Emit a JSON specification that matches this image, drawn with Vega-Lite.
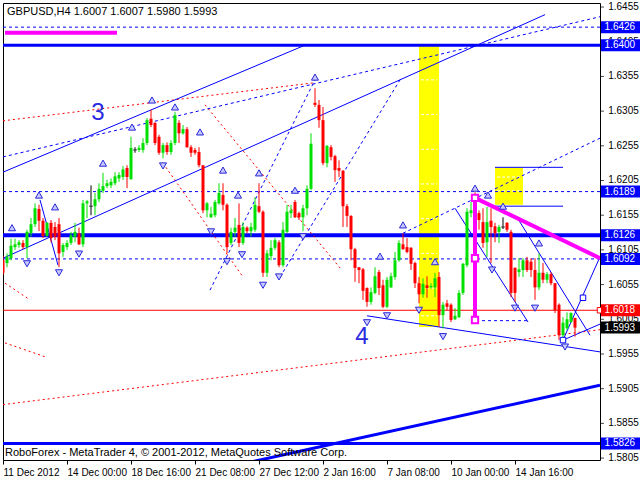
{
"$schema": "https://vega.github.io/schema/vega-lite/v6.json",
"width": 597, "height": 457,
"autosize": {"type": "none"},
"padding": {"left": 3, "top": 3, "right": 40, "bottom": 20},
"background": "white",
"view": {"stroke": "black", "strokeWidth": 1},
"config": {
  "axis": {"grid": false, "labelFont": "Liberation Sans", "labelFontSize": 10, "labelColor": "black", "tickColor": "black", "domain": false, "tickSize": 4, "labelOverlap": false, "labelFlush": false, "labelBound": false},
  "text": {"font": "Liberation Sans"}
},
"datasets": {
 "candles": [
  {"x":0,"o":1.6090,"h":1.6096,"l":1.6069,"c":1.6072},
  {"x":1,"o":1.6086,"h":1.6100,"l":1.6080,"c":1.6095},
  {"x":2,"o":1.6093,"h":1.6121,"l":1.6090,"c":1.6111},
  {"x":3,"o":1.6109,"h":1.6121,"l":1.6105,"c":1.6113},
  {"x":4,"o":1.6112,"h":1.6119,"l":1.6108,"c":1.6116},
  {"x":5,"o":1.6115,"h":1.6119,"l":1.6106,"c":1.6109},
  {"x":6,"o":1.6109,"h":1.6134,"l":1.6093,"c":1.6131},
  {"x":7,"o":1.6129,"h":1.6151,"l":1.6124,"c":1.6142},
  {"x":8,"o":1.6142,"h":1.6172,"l":1.6138,"c":1.6165},
  {"x":9,"o":1.6164,"h":1.6170,"l":1.6132,"c":1.6147},
  {"x":10,"o":1.6147,"h":1.6151,"l":1.6122,"c":1.6125},
  {"x":11,"o":1.6125,"h":1.6145,"l":1.6124,"c":1.6144},
  {"x":12,"o":1.6144,"h":1.6148,"l":1.6116,"c":1.6122},
  {"x":13,"o":1.6138,"h":1.6145,"l":1.6119,"c":1.6124},
  {"x":14,"o":1.6142,"h":1.6151,"l":1.6080,"c":1.6100},
  {"x":15,"o":1.6102,"h":1.6115,"l":1.6095,"c":1.6112},
  {"x":16,"o":1.6109,"h":1.6119,"l":1.6105,"c":1.6115},
  {"x":17,"o":1.6115,"h":1.6131,"l":1.6112,"c":1.6126},
  {"x":18,"o":1.6124,"h":1.6144,"l":1.6116,"c":1.6131},
  {"x":19,"o":1.6129,"h":1.6137,"l":1.6112,"c":1.6113},
  {"x":20,"o":1.6113,"h":1.6177,"l":1.6109,"c":1.6172},
  {"x":21,"o":1.6172,"h":1.6177,"l":1.6151,"c":1.6175},
  {"x":22,"o":1.6168,"h":1.6198,"l":1.6155,"c":1.6168},
  {"x":23,"o":1.6168,"h":1.6187,"l":1.6155,"c":1.6178},
  {"x":24,"o":1.6178,"h":1.6201,"l":1.6174,"c":1.6193},
  {"x":25,"o":1.6190,"h":1.6216,"l":1.6187,"c":1.6197},
  {"x":26,"o":1.6197,"h":1.6206,"l":1.6194,"c":1.6201},
  {"x":27,"o":1.6198,"h":1.6208,"l":1.6194,"c":1.6203},
  {"x":28,"o":1.6201,"h":1.6217,"l":1.6198,"c":1.6211},
  {"x":29,"o":1.6208,"h":1.6217,"l":1.6203,"c":1.6213},
  {"x":30,"o":1.6210,"h":1.6226,"l":1.6206,"c":1.6221},
  {"x":31,"o":1.6223,"h":1.6227,"l":1.6194,"c":1.6210},
  {"x":32,"o":1.6207,"h":1.6268,"l":1.6206,"c":1.6252},
  {"x":33,"o":1.6249,"h":1.6253,"l":1.6245,"c":1.6249},
  {"x":34,"o":1.6249,"h":1.6256,"l":1.6246,"c":1.6252},
  {"x":35,"o":1.6249,"h":1.6266,"l":1.6245,"c":1.6259},
  {"x":36,"o":1.6259,"h":1.6295,"l":1.6256,"c":1.6292},
  {"x":37,"o":1.6294,"h":1.6307,"l":1.6282,"c":1.6285},
  {"x":38,"o":1.6288,"h":1.6289,"l":1.6256,"c":1.6259},
  {"x":39,"o":1.6268,"h":1.6271,"l":1.6242,"c":1.6245},
  {"x":40,"o":1.6245,"h":1.6259,"l":1.6237,"c":1.6256},
  {"x":41,"o":1.6256,"h":1.6260,"l":1.6242,"c":1.6246},
  {"x":42,"o":1.6246,"h":1.6263,"l":1.6242,"c":1.6259},
  {"x":43,"o":1.6259,"h":1.6304,"l":1.6256,"c":1.6299},
  {"x":44,"o":1.6288,"h":1.6292,"l":1.6259,"c":1.6273},
  {"x":45,"o":1.6273,"h":1.6285,"l":1.6271,"c":1.6279},
  {"x":46,"o":1.6279,"h":1.6282,"l":1.6252,"c":1.6253},
  {"x":47,"o":1.6253,"h":1.6256,"l":1.6239,"c":1.6245},
  {"x":48,"o":1.6249,"h":1.6252,"l":1.6242,"c":1.6245},
  {"x":49,"o":1.6246,"h":1.6253,"l":1.6224,"c":1.6227},
  {"x":50,"o":1.6227,"h":1.6227,"l":1.6158,"c":1.6162},
  {"x":51,"o":1.6162,"h":1.6174,"l":1.6152,"c":1.6172},
  {"x":52,"o":1.6152,"h":1.6167,"l":1.6151,"c":1.6157},
  {"x":53,"o":1.6155,"h":1.6177,"l":1.6152,"c":1.6174},
  {"x":54,"o":1.6172,"h":1.6201,"l":1.6170,"c":1.6187},
  {"x":55,"o":1.6184,"h":1.6201,"l":1.6162,"c":1.6170},
  {"x":56,"o":1.6170,"h":1.6172,"l":1.6100,"c":1.6109},
  {"x":57,"o":1.6115,"h":1.6137,"l":1.6112,"c":1.6131},
  {"x":58,"o":1.6131,"h":1.6151,"l":1.6124,"c":1.6137},
  {"x":59,"o":1.6141,"h":1.6172,"l":1.6109,"c":1.6115},
  {"x":60,"o":1.6115,"h":1.6145,"l":1.6112,"c":1.6138},
  {"x":61,"o":1.6137,"h":1.6139,"l":1.6129,"c":1.6132},
  {"x":62,"o":1.6132,"h":1.6144,"l":1.6124,"c":1.6138},
  {"x":63,"o":1.6134,"h":1.6181,"l":1.6131,"c":1.6170},
  {"x":64,"o":1.6168,"h":1.6201,"l":1.6158,"c":1.6160},
  {"x":65,"o":1.6160,"h":1.6162,"l":1.6066,"c":1.6072},
  {"x":66,"o":1.6072,"h":1.6105,"l":1.6066,"c":1.6100},
  {"x":67,"o":1.6096,"h":1.6119,"l":1.6090,"c":1.6108},
  {"x":68,"o":1.6108,"h":1.6122,"l":1.6105,"c":1.6119},
  {"x":69,"o":1.6116,"h":1.6119,"l":1.6080,"c":1.6083},
  {"x":70,"o":1.6083,"h":1.6145,"l":1.6080,"c":1.6134},
  {"x":71,"o":1.6131,"h":1.6170,"l":1.6129,"c":1.6160},
  {"x":72,"o":1.6158,"h":1.6170,"l":1.6151,"c":1.6162},
  {"x":73,"o":1.6174,"h":1.6177,"l":1.6151,"c":1.6152},
  {"x":74,"o":1.6158,"h":1.6160,"l":1.6148,"c":1.6152},
  {"x":75,"o":1.6152,"h":1.6170,"l":1.6132,"c":1.6165},
  {"x":76,"o":1.6165,"h":1.6198,"l":1.6155,"c":1.6193},
  {"x":77,"o":1.6193,"h":1.6273,"l":1.6191,"c":1.6258},
  {"x":78,"o":1.6317,"h":1.6338,"l":1.6311,"c":1.6314},
  {"x":79,"o":1.6314,"h":1.6321,"l":1.6281,"c":1.6292},
  {"x":80,"o":1.6292,"h":1.6311,"l":1.6227,"c":1.6230},
  {"x":81,"o":1.6230,"h":1.6256,"l":1.6224,"c":1.6255},
  {"x":82,"o":1.6253,"h":1.6256,"l":1.6234,"c":1.6239},
  {"x":83,"o":1.6240,"h":1.6242,"l":1.6203,"c":1.6220},
  {"x":84,"o":1.6223,"h":1.6234,"l":1.6210,"c":1.6219},
  {"x":85,"o":1.6219,"h":1.6220,"l":1.6138,"c":1.6168},
  {"x":86,"o":1.6168,"h":1.6171,"l":1.6138,"c":1.6154},
  {"x":87,"o":1.6154,"h":1.6155,"l":1.6090,"c":1.6106},
  {"x":88,"o":1.6106,"h":1.6108,"l":1.6059,"c":1.6079},
  {"x":89,"o":1.6080,"h":1.6080,"l":1.6057,"c":1.6076},
  {"x":90,"o":1.6077,"h":1.6079,"l":1.6033,"c":1.6046},
  {"x":91,"o":1.6050,"h":1.6051,"l":1.6023,"c":1.6030},
  {"x":92,"o":1.6030,"h":1.6051,"l":1.6026,"c":1.6044},
  {"x":93,"o":1.6043,"h":1.6080,"l":1.6041,"c":1.6067},
  {"x":94,"o":1.6073,"h":1.6076,"l":1.6040,"c":1.6050},
  {"x":95,"o":1.6054,"h":1.6062,"l":1.6021,"c":1.6023},
  {"x":96,"o":1.6023,"h":1.6066,"l":1.6021,"c":1.6062},
  {"x":97,"o":1.6051,"h":1.6072,"l":1.6050,"c":1.6067},
  {"x":98,"o":1.6066,"h":1.6102,"l":1.6062,"c":1.6090},
  {"x":99,"o":1.6090,"h":1.6119,"l":1.6088,"c":1.6115},
  {"x":100,"o":1.6113,"h":1.6129,"l":1.6105,"c":1.6106},
  {"x":101,"o":1.6109,"h":1.6122,"l":1.6100,"c":1.6102},
  {"x":102,"o":1.6108,"h":1.6109,"l":1.6076,"c":1.6085},
  {"x":103,"o":1.6086,"h":1.6088,"l":1.6050,"c":1.6057},
  {"x":104,"o":1.6057,"h":1.6066,"l":1.6028,"c":1.6041},
  {"x":105,"o":1.6041,"h":1.6064,"l":1.6036,"c":1.6056},
  {"x":106,"o":1.6054,"h":1.6067,"l":1.6036,"c":1.6050},
  {"x":107,"o":1.6051,"h":1.6057,"l":1.6049,"c":1.6053},
  {"x":108,"o":1.6051,"h":1.6072,"l":1.6037,"c":1.6064},
  {"x":109,"o":1.6066,"h":1.6073,"l":1.5994,"c":1.6011},
  {"x":110,"o":1.6011,"h":1.6030,"l":1.5992,"c":1.6026},
  {"x":111,"o":1.6028,"h":1.6033,"l":1.6018,"c":1.6023},
  {"x":112,"o":1.6026,"h":1.6028,"l":1.6001,"c":1.6004},
  {"x":113,"o":1.6005,"h":1.6021,"l":1.6004,"c":1.6010},
  {"x":114,"o":1.6008,"h":1.6047,"l":1.6007,"c":1.6043},
  {"x":115,"o":1.6043,"h":1.6086,"l":1.6040,"c":1.6085},
  {"x":116,"o":1.6083,"h":1.6165,"l":1.6080,"c":1.6160},
  {"x":117,"o":1.6158,"h":1.6174,"l":1.6152,"c":1.6162},
  {"x":118,"o":1.6177,"h":1.6188,"l":1.6141,"c":1.6151},
  {"x":119,"o":1.6158,"h":1.6162,"l":1.6134,"c":1.6148},
  {"x":120,"o":1.6145,"h":1.6165,"l":1.6108,"c":1.6115},
  {"x":121,"o":1.6116,"h":1.6167,"l":1.6095,"c":1.6145},
  {"x":122,"o":1.6147,"h":1.6165,"l":1.6086,"c":1.6138},
  {"x":123,"o":1.6139,"h":1.6144,"l":1.6116,"c":1.6129},
  {"x":124,"o":1.6131,"h":1.6141,"l":1.6115,"c":1.6138},
  {"x":125,"o":1.6138,"h":1.6152,"l":1.6135,"c":1.6138},
  {"x":126,"o":1.6144,"h":1.6145,"l":1.6131,"c":1.6134},
  {"x":127,"o":1.6131,"h":1.6134,"l":1.6037,"c":1.6043},
  {"x":128,"o":1.6079,"h":1.6080,"l":1.6030,"c":1.6043},
  {"x":129,"o":1.6073,"h":1.6093,"l":1.6066,"c":1.6077},
  {"x":130,"o":1.6076,"h":1.6093,"l":1.6066,"c":1.6090},
  {"x":131,"o":1.6090,"h":1.6095,"l":1.6073,"c":1.6076},
  {"x":132,"o":1.6088,"h":1.6093,"l":1.6066,"c":1.6076},
  {"x":133,"o":1.6076,"h":1.6093,"l":1.6033,"c":1.6051},
  {"x":134,"o":1.6051,"h":1.6100,"l":1.6047,"c":1.6072},
  {"x":135,"o":1.6072,"h":1.6086,"l":1.6057,"c":1.6062},
  {"x":136,"o":1.6062,"h":1.6073,"l":1.6057,"c":1.6070},
  {"x":137,"o":1.6070,"h":1.6073,"l":1.6054,"c":1.6057},
  {"x":138,"o":1.6057,"h":1.6057,"l":1.6014,"c":1.6018},
  {"x":139,"o":1.6026,"h":1.6028,"l":1.5975,"c":1.5982},
  {"x":140,"o":1.5982,"h":1.6008,"l":1.5978,"c":1.6000},
  {"x":141,"o":1.5992,"h":1.6015,"l":1.5990,"c":1.6005},
  {"x":142,"o":1.6001,"h":1.6015,"l":1.6000,"c":1.6014},
  {"x":143,"o":1.6007,"h":1.6007,"l":1.5980,"c":1.5993}
 ],
 "hthick": [{"y":1.6400,"w":3},{"y":1.6126,"w":4},{"y":1.5826,"w":3}],
 "hdash": [{"y":1.6426},{"y":1.6189},{"y":1.6092}],
 "hred": [{"y":1.6018}],
 "yellow": [{"x":104,"x2":109,"y":1.6400,"y2":1.5994},{"x":123,"x2":130,"y":1.6224,"y2":1.6170}],
 "ywhite": [
  {"x":104.5,"x2":108.5,"y":1.6350},{"x":104.5,"x2":108.5,"y":1.6300},{"x":104.5,"x2":108.5,"y":1.6250},
  {"x":104.5,"x2":108.5,"y":1.6200},{"x":104.5,"x2":108.5,"y":1.6150},{"x":104.5,"x2":108.5,"y":1.6100},
  {"x":104.5,"x2":108.5,"y":1.6050},{"x":104.5,"x2":108.5,"y":1.6010},
  {"x":123.5,"x2":129.5,"y":1.6210},{"x":123.5,"x2":129.5,"y":1.6190}
 ],
 "segS": [
  {"x":0,"y":1.6217,"x2":75.5,"y2":1.6400},
  {"x":0,"y":1.6093,"x2":135.5,"y2":1.6444},
  {"x":9.25,"y":1.6177,"x2":13.75,"y2":1.6083},
  {"x":91,"y":1.6010,"x2":149.25,"y2":1.5958},
  {"x":113,"y":1.6165,"x2":131.25,"y2":1.6001},
  {"x":128.5,"y":1.6152,"x2":146.75,"y2":1.5982},
  {"x":140,"y":1.5975,"x2":149.25,"y2":1.6095},
  {"x":140,"y":1.5975,"x2":149.25,"y2":1.5998},
  {"x":123,"y":1.6224,"x2":140,"y2":1.6224},
  {"x":123,"y":1.6168,"x2":140,"y2":1.6168}
 ],
 "segT": [{"x":61.75,"y":1.5799,"x2":149.25,"y2":1.5910}],
 "segD": [
  {"x":0,"y":1.6239,"x2":149.25,"y2":1.6441},
  {"x":100,"y":1.6129,"x2":149.25,"y2":1.6266},
  {"x":51.75,"y":1.6047,"x2":78,"y2":1.6350},
  {"x":69.25,"y":1.6066,"x2":99.25,"y2":1.6350},
  {"x":119.75,"y":1.6003,"x2":131,"y2":1.6003}
 ],
 "segR": [
  {"x":0,"y":1.6291,"x2":78,"y2":1.6346},
  {"x":50.5,"y":1.6314,"x2":84.25,"y2":1.6079},
  {"x":40,"y":1.6230,"x2":60,"y2":1.6066},
  {"x":0,"y":1.5882,"x2":149.25,"y2":1.5990},
  {"x":0.5,"y":1.6057,"x2":6.75,"y2":1.6033},
  {"x":0.5,"y":1.5971,"x2":10.5,"y2":1.5951}
 ],
 "segM": [
  {"x":0.5,"y":1.6418,"x2":28.5,"y2":1.6418},
  {"x":118,"y":1.6180,"x2":149.25,"y2":1.6093},
  {"x":118,"y":1.6180,"x2":118,"y2":1.6004}
 ],
 "msq": [{"x":118,"y":1.6180},{"x":118,"y":1.6093},{"x":118,"y":1.6004}],
 "bsq": [{"x":145,"y":1.6036,"k":"b"},{"x":140,"y":1.5975,"k":"b"},{"x":149.25,"y":1.6018,"k":"r"}],
 "fup": [
  {"x":2.25,"y":1.6137},{"x":9,"y":1.6184},{"x":13,"y":1.6167},{"x":25,"y":1.6230},{"x":32.25,"y":1.6282},
  {"x":37.25,"y":1.6321},{"x":43,"y":1.6311},{"x":49.25,"y":1.6275},{"x":55,"y":1.6220},{"x":58.75,"y":1.6184},
  {"x":64,"y":1.6216},{"x":73,"y":1.6191},{"x":78,"y":1.6354},{"x":94.25,"y":1.6096},{"x":100,"y":1.6141},
  {"x":108,"y":1.6088},{"x":118,"y":1.6194},{"x":121.25,"y":1.6184},{"x":125,"y":1.6168},{"x":134,"y":1.6115}
 ],
 "fdn": [
  {"x":6,"y":1.6085},{"x":14,"y":1.6072},{"x":19,"y":1.6099},{"x":40,"y":1.6226},{"x":52,"y":1.6131},
  {"x":56,"y":1.6088},{"x":59.75,"y":1.6098},{"x":65,"y":1.6054},{"x":69,"y":1.6066},{"x":75,"y":1.6124},
  {"x":91,"y":1.6000},{"x":96,"y":1.6010},{"x":104,"y":1.6018},{"x":110,"y":1.5980},{"x":122.25,"y":1.6076},
  {"x":128,"y":1.6021},{"x":133,"y":1.6021},{"x":140.5,"y":1.5965}
 ],
 "big": [{"x":23.75,"y":1.6302,"t":"3"},{"x":89.75,"y":1.5980,"t":"4"}],
 "small": [
  {"x":1,"y":1.6448,"t":"GBPUSD,H4  1.6007 1.6007 1.5980 1.5993"},
  {"x":0.5,"y":1.5812,"t":"RoboForex - MetaTrader 4, © 2001-2012, MetaQuotes Software Corp."}
 ],
 "yticks": [
  {"y":1.6455},{"y":1.6405},{"y":1.6355},{"y":1.6305},{"y":1.6255},{"y":1.6205},{"y":1.6155},
  {"y":1.6105},{"y":1.6055},{"y":1.6005},{"y":1.5955},{"y":1.5905},{"y":1.5855},{"y":1.5805}
 ],
 "boxes": [
  {"y":1.6426,"t":"1.6426","k":"b"},{"y":1.6400,"t":"1.6400","k":"b"},{"y":1.6189,"t":"1.6189","k":"b"},
  {"y":1.6126,"t":"1.6126","k":"b"},{"y":1.6092,"t":"1.6092","k":"b"},{"y":1.6018,"t":"1.6018","k":"r"},
  {"y":1.5993,"t":"1.5993","k":"k"},{"y":1.5826,"t":"1.5826","k":"b"}
 ]
},
"layer": [
 {"data": {"name": "yellow"}, "mark": {"type": "rect", "color": "#ffff00", "clip": true},
  "encoding": {
   "x": {"field": "x", "type": "quantitative", "scale": {"domain": [0, 149.25], "nice": false, "zero": false},
     "axis": {"values": [0,16,32,48,64,80,96,112,128], "labelAlign": "left", "labelPadding": 3, "labelDx": 1, "labelOverlap": false,
      "labelExpr": "['11 Dec 2012','14 Dec 00:00','18 Dec 16:00','21 Dec 08:00','27 Dec 12:00','2 Jan 16:00','7 Jan 08:00','10 Jan 00:00','14 Jan 16:00'][datum.value/16]"},
     "title": null},
   "x2": {"field": "x2"},
   "y": {"field": "y", "type": "quantitative", "scale": {"domain": [1.58022, 1.64608], "nice": false, "zero": false},
     "axis": null, "title": null},
   "y2": {"field": "y2"}
  }},
 {"data": {"name": "ywhite"}, "mark": {"type": "rule", "color": "#ffffff", "strokeDash": [3, 2], "strokeWidth": 1, "clip": true},
  "encoding": {"x": {"field": "x", "type": "quantitative", "title": null}, "x2": {"field": "x2"}, "y": {"field": "y", "type": "quantitative", "title": null, "axis": null}}},
 {"data": {"name": "hthick"}, "mark": {"type": "rule", "color": "#0000ff", "clip": true},
  "encoding": {"y": {"field": "y", "type": "quantitative", "title": null, "axis": null}, "strokeWidth": {"field": "w", "type": "quantitative", "scale": null}}},
 {"data": {"name": "hdash"}, "mark": {"type": "rule", "color": "#0000ff", "strokeDash": [3, 3], "strokeWidth": 1, "clip": true},
  "encoding": {"y": {"field": "y", "type": "quantitative", "title": null, "axis": null}}},
 {"data": {"name": "hred"}, "mark": {"type": "rule", "color": "#ff0000", "strokeWidth": 1, "clip": true},
  "encoding": {"y": {"field": "y", "type": "quantitative", "title": null, "axis": null}}},
 {"data": {"name": "segR"}, "mark": {"type": "rule", "color": "#ff0000", "strokeDash": [2, 3], "strokeWidth": 1, "clip": true},
  "encoding": {"x": {"field": "x", "type": "quantitative", "title": null}, "x2": {"field": "x2"}, "y": {"field": "y", "type": "quantitative", "title": null, "axis": null}, "y2": {"field": "y2"}}},
 {"data": {"name": "segD"}, "mark": {"type": "rule", "color": "#0000ff", "strokeDash": [3, 3], "strokeWidth": 1, "clip": true},
  "encoding": {"x": {"field": "x", "type": "quantitative", "title": null}, "x2": {"field": "x2"}, "y": {"field": "y", "type": "quantitative", "title": null, "axis": null}, "y2": {"field": "y2"}}},
 {"data": {"name": "segS"}, "mark": {"type": "rule", "color": "#0000ff", "strokeWidth": 1, "clip": true},
  "encoding": {"x": {"field": "x", "type": "quantitative", "title": null}, "x2": {"field": "x2"}, "y": {"field": "y", "type": "quantitative", "title": null, "axis": null}, "y2": {"field": "y2"}}},
 {"data": {"name": "segT"}, "mark": {"type": "rule", "color": "#0000ff", "strokeWidth": 3, "clip": true},
  "encoding": {"x": {"field": "x", "type": "quantitative", "title": null}, "x2": {"field": "x2"}, "y": {"field": "y", "type": "quantitative", "title": null, "axis": null}, "y2": {"field": "y2"}}},
 {"data": {"name": "candles"}, "mark": {"type": "rule", "strokeWidth": 1, "clip": true},
  "encoding": {"x": {"field": "x", "type": "quantitative", "title": null}, "y": {"field": "l", "type": "quantitative", "title": null, "axis": null}, "y2": {"field": "h"},
   "color": {"condition": [{"test": "datum.c > datum.o", "value": "#00e000"}, {"test": "datum.c < datum.o", "value": "#ff0000"}], "value": "#000000"}}},
 {"data": {"name": "candles"}, "mark": {"type": "rule", "strokeWidth": 3, "clip": true},
  "encoding": {"x": {"field": "x", "type": "quantitative", "title": null}, "y": {"field": "o", "type": "quantitative", "title": null, "axis": null}, "y2": {"field": "c"},
   "color": {"condition": [{"test": "datum.c > datum.o", "value": "#00e000"}, {"test": "datum.c < datum.o", "value": "#ff0000"}], "value": "#000000"}}},
 {"data": {"name": "candles"}, "transform": [{"filter": "datum.o == datum.c"}], "mark": {"type": "tick", "orient": "horizontal", "size": 4, "thickness": 1, "color": "#000000", "clip": true},
  "encoding": {"x": {"field": "x", "type": "quantitative", "title": null}, "y": {"field": "o", "type": "quantitative", "title": null, "axis": null}}},
 {"data": {"name": "segM"}, "mark": {"type": "rule", "color": "#ff00ff", "strokeWidth": 4, "clip": true},
  "encoding": {"x": {"field": "x", "type": "quantitative", "title": null}, "x2": {"field": "x2"}, "y": {"field": "y", "type": "quantitative", "title": null, "axis": null}, "y2": {"field": "y2"}}},
 {"data": {"name": "msq"}, "mark": {"type": "point", "shape": "square", "size": 40, "filled": false, "fill": "white", "fillOpacity": 1, "stroke": "#ff00ff", "strokeWidth": 2},
  "encoding": {"x": {"field": "x", "type": "quantitative", "title": null}, "y": {"field": "y", "type": "quantitative", "title": null, "axis": null}}},
 {"data": {"name": "bsq"}, "mark": {"type": "point", "shape": "square", "size": 30, "fill": "white", "fillOpacity": 1, "strokeWidth": 1},
  "encoding": {"x": {"field": "x", "type": "quantitative", "title": null}, "y": {"field": "y", "type": "quantitative", "title": null, "axis": null},
   "stroke": {"condition": {"test": "datum.k == 'r'", "value": "#ff0000"}, "value": "#0000ff"}}},
 {"data": {"name": "fup"}, "mark": {"type": "point", "shape": "triangle-up", "size": 50, "fill": "#c8c8ff", "fillOpacity": 1, "stroke": "#2828d8", "strokeWidth": 1},
  "encoding": {"x": {"field": "x", "type": "quantitative", "title": null}, "y": {"field": "y", "type": "quantitative", "title": null, "axis": null}}},
 {"data": {"name": "fdn"}, "mark": {"type": "point", "shape": "triangle-down", "size": 50, "fill": "#c8c8ff", "fillOpacity": 1, "stroke": "#2828d8", "strokeWidth": 1},
  "encoding": {"x": {"field": "x", "type": "quantitative", "title": null}, "y": {"field": "y", "type": "quantitative", "title": null, "axis": null}}},
 {"data": {"name": "big"}, "mark": {"type": "text", "fontSize": 24, "color": "#2a2ae0", "align": "center", "baseline": "middle"},
  "encoding": {"x": {"field": "x", "type": "quantitative", "title": null}, "y": {"field": "y", "type": "quantitative", "title": null, "axis": null}, "text": {"field": "t"}}},
 {"data": {"name": "small"}, "mark": {"type": "text", "fontSize": 11, "color": "#000000", "align": "left", "baseline": "middle"},
  "encoding": {"x": {"field": "x", "type": "quantitative", "title": null}, "y": {"field": "y", "type": "quantitative", "title": null, "axis": null}, "text": {"field": "t"}}},
 {"data": {"name": "yticks"}, "mark": {"type": "tick", "orient": "horizontal", "size": 4, "thickness": 1, "color": "#000000"},
  "encoding": {"x": {"datum": 149.75, "type": "quantitative"}, "y": {"field": "y", "type": "quantitative", "title": null, "axis": null}}},
 {"data": {"name": "yticks"}, "mark": {"type": "text", "fontSize": 10, "font": "Liberation Sans", "color": "#000000", "align": "left", "baseline": "middle"},
  "encoding": {"x": {"datum": 151.3, "type": "quantitative"}, "y": {"field": "y", "type": "quantitative", "title": null, "axis": null}, "text": {"field": "y", "type": "quantitative", "format": ".4f"}}},
 {"data": {"name": "boxes"}, "mark": {"type": "tick", "orient": "horizontal", "size": 40, "thickness": 12, "opacity": 1},
  "encoding": {"x": {"datum": 154.5, "type": "quantitative"}, "y": {"field": "y", "type": "quantitative", "title": null, "axis": null},
   "color": {"condition": [{"test": "datum.k == 'r'", "value": "#ff0000"}, {"test": "datum.k == 'k'", "value": "#000000"}], "value": "#0000ff"}}},
 {"data": {"name": "boxes"}, "mark": {"type": "text", "fontSize": 10, "color": "white", "align": "left", "baseline": "middle"},
  "encoding": {"x": {"datum": 150.4, "type": "quantitative"}, "y": {"field": "y", "type": "quantitative", "title": null, "axis": null}, "text": {"field": "t"}}}
]
}
